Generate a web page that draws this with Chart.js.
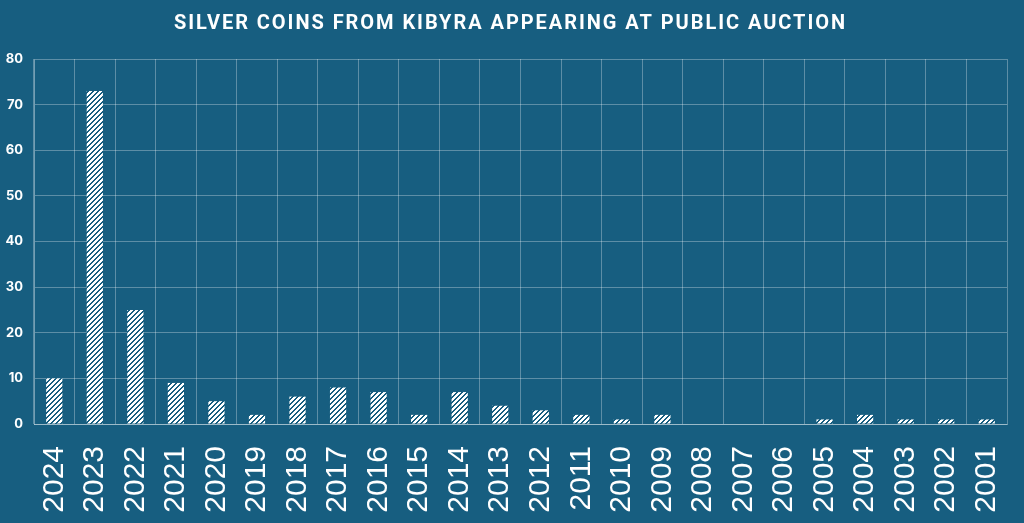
<!DOCTYPE html>
<html><head><meta charset="utf-8">
<script src="https://cdn.jsdelivr.net/npm/chart.js@4"></script>
<style>html,body{margin:0;padding:0;background:#175e80;}#wrap{width:1024px;height:523px;}</style>
</head><body><div id="wrap"><canvas id="c" width="1024" height="523"></canvas></div>
<script>
const years = ["2024","2023","2022","2021","2020","2019","2018","2017","2016","2015","2014","2013","2012","2011","2010","2009","2008","2007","2006","2005","2004","2003","2002","2001"];
const coinCounts = [10,73,25,9,5,2,6,8,7,2,7,4,3,2,1,2,0,0,0,1,2,1,1,1];
const yTicks = [0,10,20,30,40,50,60,70,80];
const titleText = "SILVER COINS FROM KIBYRA APPEARING AT PUBLIC AUCTION";

const BG = "#175e80";
function hatch(){
  const n = 5;
  const p = document.createElement('canvas'); p.width = n; p.height = n;
  const x = p.getContext('2d');
  const img = x.createImageData(n,n);
  for(let j=0;j<n;j++)for(let i=0;i<n;i++){
    const k=(j*n+i)*4; const w=((i+j)%n)<3;
    img.data[k]=w?255:23; img.data[k+1]=w?255:94; img.data[k+2]=w?255:128; img.data[k+3]=255;
  }
  x.putImageData(img,0,0);
  return x.createPattern(p,'repeat');
}
const bgPlugin = {id:'bg', beforeDraw(c){const g=c.ctx; g.save(); g.fillStyle=BG; g.fillRect(0,0,c.width,c.height); g.restore();}};
const titlePlugin = {id:'ttl', afterDraw(c){
  const g=c.ctx; g.save(); g.fillStyle='#fff';
  g.font='bold 20px Roboto, "DejaVu Sans"';
  const w0 = g.measureText(titleText).width;
  const sp = Math.max(0,(671 - w0)/(titleText.length-1));
  g.letterSpacing = sp.toFixed(2)+'px';
  g.textAlign='left'; g.textBaseline='middle';
  g.fillText(titleText, 174, 24); g.restore();}};

new Chart(document.getElementById('c'), {
  type:'bar',
  data:{labels:years, datasets:[{data:coinCounts, backgroundColor:hatch(), borderWidth:0, barPercentage:0.4, categoryPercentage:1}]},
  options:{
    responsive:false, animation:false, devicePixelRatio:1,
    layout:{padding:{left:4,right:17,top:59,bottom:0}},
    plugins:{legend:{display:false}, title:{display:false}, tooltip:{enabled:false}},
    scales:{
      x:{afterFit(s){s.height=99; s.paddingLeft=0; s.paddingRight=0;},
         grid:{color:'rgba(255,255,255,0.3)', drawTicks:false, offset:true}, border:{color:'rgba(255,255,255,0.4)'},
         ticks:{color:'#fff', font:{family:'"Liberation Sans", Arial', size:30}, maxRotation:90, minRotation:90, padding:22, autoSkip:false}},
      y:{min:0,max:80, afterFit(s){s.width=30;}, afterBuildTicks(s){s.ticks=yTicks.map(v=>({value:v}));},
         grid:{color:'rgba(255,255,255,0.3)', drawTicks:false}, border:{color:'rgba(255,255,255,0.4)'},
         ticks:{color:'#fff', font:{family:'Inter, "DejaVu Sans"', size:13, weight:'bold'}, padding:11}}
    }
  },
  plugins:[bgPlugin,titlePlugin]
});
</script></body></html>
